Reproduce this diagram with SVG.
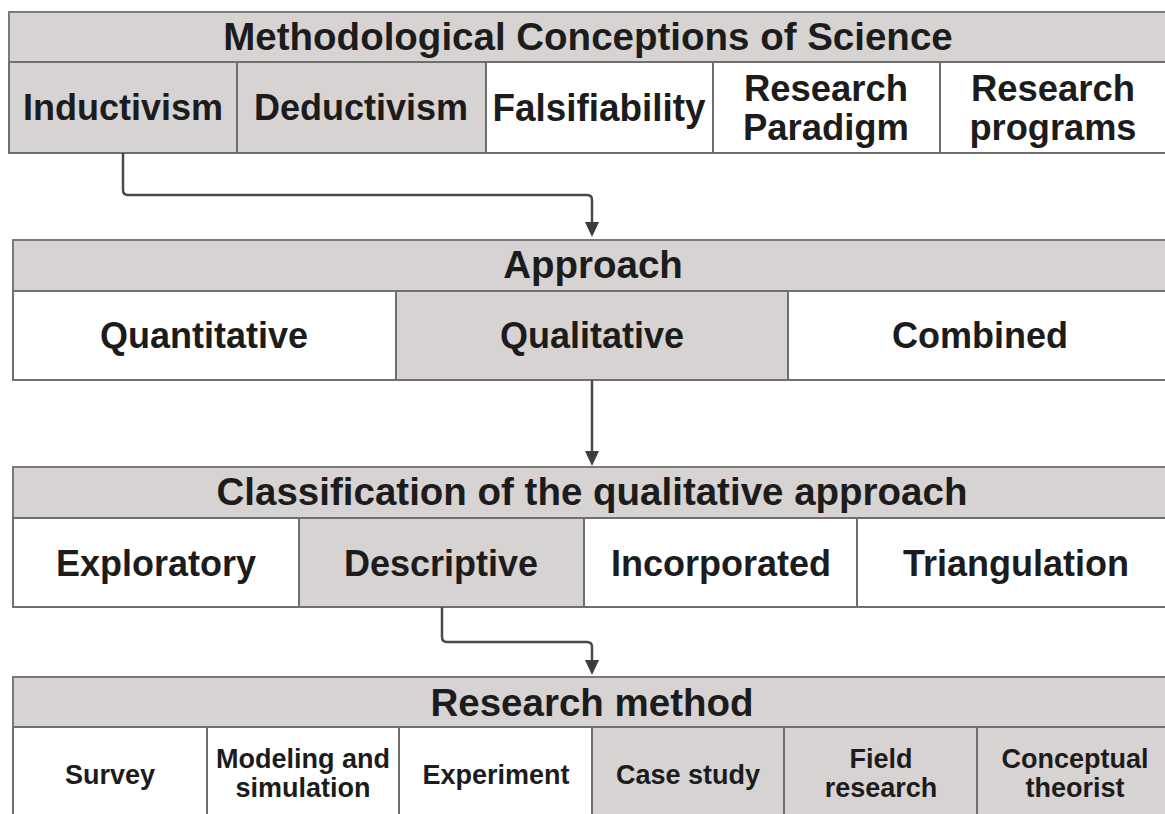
<svg xmlns="http://www.w3.org/2000/svg" width="1165" height="814" viewBox="0 0 1165 814">
  <style>
    .hdr { fill: #d7d3d2; stroke: #7a7a7a; stroke-width: 2; }
    .g { fill: #d7d3d2; stroke: #6f6f6f; stroke-width: 2; }
    .w { fill: #ffffff; stroke: #6f6f6f; stroke-width: 2; }
    text { font-family: "Liberation Sans", Arial, sans-serif; font-weight: bold; fill: #1c1c1c; text-anchor: middle; }
    .t38 { font-size: 38.5px; }
    .t36 { font-size: 36px; }
    .t27 { font-size: 27px; }
    .conn { fill: none; stroke: #4a4a4a; stroke-width: 2.5; marker-end: url(#arrow); }
  </style>
  <defs>
    <!-- filled arrowhead; its base sits on the end of the line -->
    <marker id="arrow" markerUnits="userSpaceOnUse" markerWidth="15" markerHeight="14" viewBox="0 0 15 14" refX="0" refY="7" orient="auto">
      <path d="M0,0 L15,7 L0,14 Z" fill="#3c3c3c"/>
    </marker>
  </defs>
  <rect width="1165" height="814" fill="#ffffff"/>

  <!-- Level 1: methodological conceptions -->
  <g id="conceptions">
    <rect class="hdr" x="9" y="12" width="1170" height="50"/>
    <text class="t38" x="588" y="50">Methodological Conceptions of Science</text>
  </g>
  <g id="inductivism">
    <rect class="g" x="9" y="62" width="228" height="91"/>
    <text class="t36" x="123" y="120">Inductivism</text>
  </g>
  <g id="deductivism">
    <rect class="g" x="237" y="62" width="249" height="91"/>
    <text class="t36" x="361" y="120">Deductivism</text>
  </g>
  <g id="falsifiability">
    <rect class="w" x="486" y="62" width="227" height="91"/>
    <text class="t38" x="599" y="121" textLength="213" lengthAdjust="spacingAndGlyphs">Falsifiability</text>
  </g>
  <g id="research-paradigm">
    <rect class="w" x="713" y="62" width="227" height="91"/>
    <text class="t36" x="826" y="101" textLength="164" lengthAdjust="spacingAndGlyphs">Research</text>
    <text class="t36" x="826" y="140" textLength="166" lengthAdjust="spacingAndGlyphs">Paradigm</text>
  </g>
  <g id="research-programs">
    <rect class="w" x="940" y="62" width="240" height="91"/>
    <text class="t36" x="1053" y="101" textLength="164" lengthAdjust="spacingAndGlyphs">Research</text>
    <text class="t36" x="1053" y="140" textLength="167" lengthAdjust="spacingAndGlyphs">programs</text>
  </g>

  <!-- Level 2: approach -->
  <g id="approach">
    <rect class="hdr" x="13" y="240" width="1170" height="51"/>
    <text class="t38" x="593" y="278">Approach</text>
  </g>
  <g id="quantitative">
    <rect class="w" x="13" y="291" width="383" height="89"/>
    <text class="t36" x="204" y="348">Quantitative</text>
  </g>
  <g id="qualitative">
    <rect class="g" x="396" y="291" width="392" height="89"/>
    <text class="t36" x="592" y="348">Qualitative</text>
  </g>
  <g id="combined">
    <rect class="w" x="788" y="291" width="392" height="89"/>
    <text class="t36" x="980" y="348">Combined</text>
  </g>

  <!-- Level 3: classification of the qualitative approach -->
  <g id="classification">
    <rect class="hdr" x="13" y="467" width="1170" height="51"/>
    <text class="t38" x="592" y="505">Classification of the qualitative approach</text>
  </g>
  <g id="exploratory">
    <rect class="w" x="13" y="518" width="286" height="89"/>
    <text class="t36" x="156" y="576">Exploratory</text>
  </g>
  <g id="descriptive">
    <rect class="g" x="299" y="518" width="285" height="89"/>
    <text class="t36" x="441" y="576">Descriptive</text>
  </g>
  <g id="incorporated">
    <rect class="w" x="584" y="518" width="273" height="89"/>
    <text class="t36" x="721" y="576">Incorporated</text>
  </g>
  <g id="triangulation">
    <rect class="w" x="857" y="518" width="323" height="89"/>
    <text class="t36" x="1016" y="576">Triangulation</text>
  </g>

  <!-- Level 4: research method -->
  <g id="research-method">
    <rect class="hdr" x="13" y="677" width="1170" height="50"/>
    <text class="t38" x="592" y="716">Research method</text>
  </g>
  <g id="survey">
    <rect class="w" x="13" y="727" width="194" height="110"/>
    <text class="t27" x="110" y="784">Survey</text>
  </g>
  <g id="modeling">
    <rect class="w" x="207" y="727" width="192" height="110"/>
    <text class="t27" x="303" y="768">Modeling and</text>
    <text class="t27" x="303" y="797">simulation</text>
  </g>
  <g id="experiment">
    <rect class="w" x="399" y="727" width="193" height="110"/>
    <text class="t27" x="496" y="784">Experiment</text>
  </g>
  <g id="case-study">
    <rect class="g" x="592" y="727" width="192" height="110"/>
    <text class="t27" x="688" y="784">Case study</text>
  </g>
  <g id="field-research">
    <rect class="g" x="784" y="727" width="193" height="110"/>
    <text class="t27" x="881" y="768">Field</text>
    <text class="t27" x="881" y="797">research</text>
  </g>
  <g id="conceptual-theorist">
    <rect class="g" x="977" y="727" width="203" height="110"/>
    <text class="t27" x="1075" y="768">Conceptual</text>
    <text class="t27" x="1075" y="797">theorist</text>
  </g>

  <!-- Connectors -->
  <g id="connectors">
    <path class="conn" d="M123,153 V190 Q123,195 128,195 H587 Q592,195 592,200 V222"/>
    <path class="conn" d="M592,380 V451"/>
    <path class="conn" d="M442,607 V637 Q442,642 447,642 H587 Q592,642 592,647 V660"/>
  </g>
</svg>
